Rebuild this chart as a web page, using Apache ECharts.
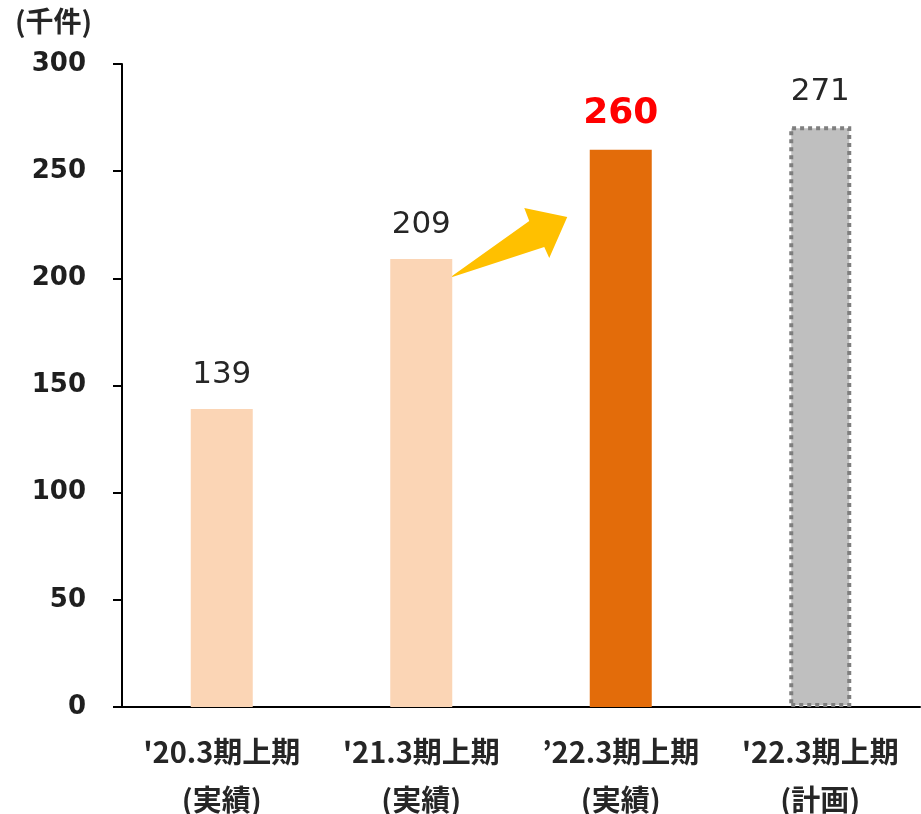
<!DOCTYPE html>
<html><head><meta charset="utf-8">
<script src="https://cdn.jsdelivr.net/npm/echarts@6/dist/echarts.min.js"></script>
<style>html,body{margin:0;padding:0;background:#fff}#c{width:921px;height:814px}</style>
</head><body><div id="c"></div>
<script>
const categories = ["'20.3期上期\n(実績)", "'21.3期上期\n(実績)", "’22.3期上期\n(実績)", "'22.3期上期\n(計画)"];
const values = [139, 209, 260, 271];
const yTicks = [0, 50, 100, 150, 200, 250, 300];
const unitLabel = "(千件)";

const chart = echarts.init(document.getElementById('c'));
const barStyles = [
  {color:'#FBD5B5'},
  {color:'#FBD5B5'},
  {color:'#E36C0A'},
  {color:'#BFBFBF', borderColor:'#7F7F7F', borderWidth:4, borderType:[4,4]}
];
const numFont = '"DejaVu Sans", Verdana, sans-serif';
const cjkFont = '"Noto Sans CJK JP", sans-serif';
const unitText = {type:'text', left:15, top:7, style:{text:unitLabel, fontSize:28, fontWeight:'bold', fill:'#262626', fontFamily:cjkFont}};
chart.setOption({
  animation:false,
  grid:{left:122, right:1, top:64, bottom:107, containLabel:false, outerBoundsMode:'none'},
  xAxis:{
    type:'category', data:categories,
    axisLine:{lineStyle:{color:'#000', width:2}},
    axisTick:{show:false},
    axisLabel:{interval:0, hideOverlap:false, color:'#262626', fontSize:29, fontWeight:'bold', lineHeight:48, margin:21, fontFamily:cjkFont}
  },
  yAxis:{
    type:'value', min:yTicks[0], max:yTicks[yTicks.length-1], interval:50,
    splitLine:{show:false},
    axisLine:{show:true, lineStyle:{color:'#000', width:2}},
    axisTick:{show:true, length:9, lineStyle:{color:'#000', width:2}},
    axisLabel:{color:'#1f1f1f', fontSize:26, fontWeight:'bold', margin:36, fontFamily:numFont}
  },
  graphic:[unitText],
  series:[{
    type:'bar', barWidth:62,
    data: values.map((v,i)=>({
      value:v, itemStyle:barStyles[i],
      label: i===2 ? {color:'#FF0000', fontWeight:'bold', fontSize:36, distance:18} : {}
    })),
    label:{show:true, position:'top', distance:19, color:'#262626', fontSize:31, fontFamily:numFont}
  }]
});
// decorative arrow from bar 2 toward bar 3
const a = chart.convertToPixel({gridIndex:0}, [1, values[1]]);
const offs = [[28,19],[108,-38],[103,-51],[146,-42],[128,-1],[123,-12]];
chart.setOption({graphic:[
  unitText,
  {type:'polygon', shape:{points:offs.map(o=>[a[0]+o[0], a[1]+o[1]])}, style:{fill:'#FFC000'}}
]});
</script></body></html>
